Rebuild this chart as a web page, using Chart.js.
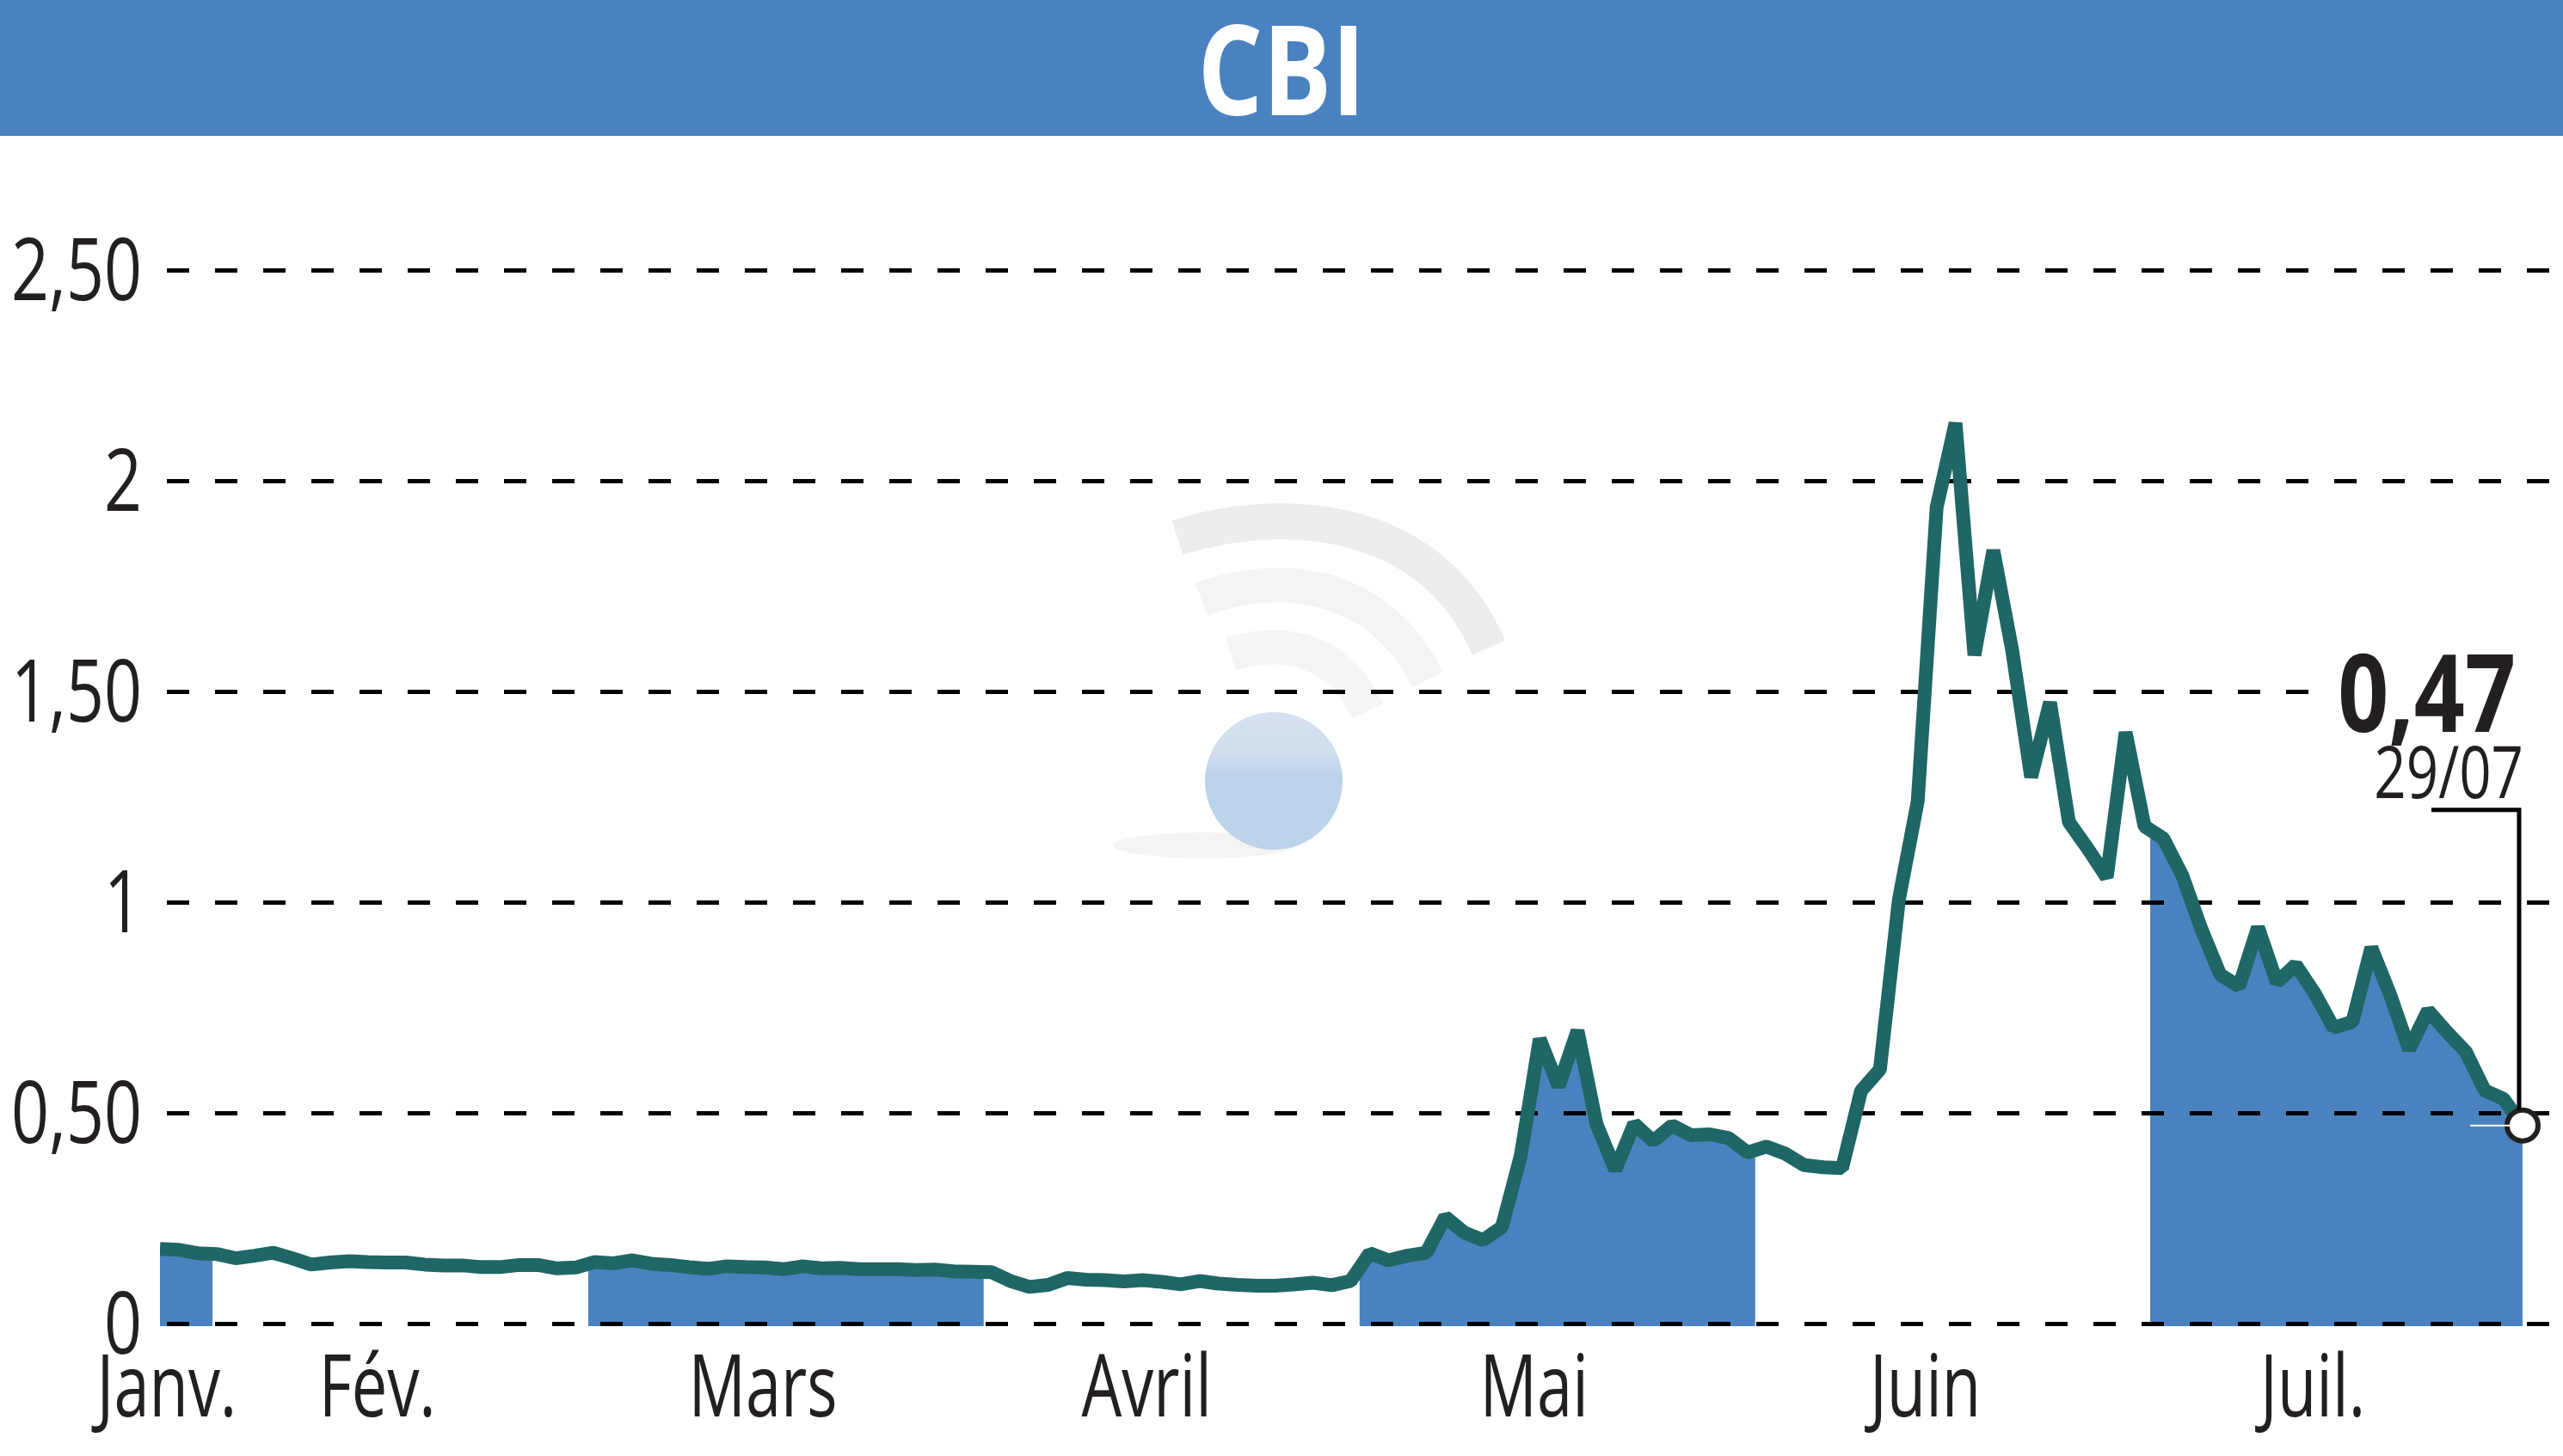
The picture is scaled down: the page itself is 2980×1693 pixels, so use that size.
<!DOCTYPE html>
<html lang="fr">
<head>
<meta charset="utf-8">
<title>CBI</title>
<script src="https://cdn.jsdelivr.net/npm/chart.js@4"></script>
<style>html,body{margin:0;padding:0;background:#fff}canvas{display:block}</style>
</head>
<body>
<canvas id="c" width="2980" height="1693"></canvas>
<script>
const titleText = 'CBI';
const lastDateLabel = '29/07';
const prices = [
  .177,.175,.167,.165,.155,.161,.168,.155,.14,.145,
  .148,.146,.145,.145,.14,.138,.138,.134,.134,.139,
  .139,.131,.133,.146,.143,.15,.142,.139,.134,.13,
  .136,.134,.133,.129,.136,.131,.132,.129,.129,.129,
  .127,.128,.124,.123,.122,.101,.087,.092,.108,.104,
  .103,.1,.103,.099,.093,.101,.095,.092,.09,.09,
  .093,.097,.091,.101,.167,.15,.161,.168,.253,.216,
  .198,.229,.399,.675,.563,.695,.474,.365,.474,.433,
  .47,.447,.449,.44,.406,.42,.403,.376,.371,.369,
  .552,.603,1.005,1.24,1.937,2.137,1.586,1.835,1.597,1.297,
  1.474,1.19,1.127,1.059,1.403,1.18,1.151,1.063,.937,.828,
  .8,.94,.81,.851,.784,.702,.716,.892,.78,.651,
  .743,.692,.645,.553,.533,.47
];
const monthLabels = ['Janv.','Fév.','Mars','Avril','Mai','Juin','Juil.'];
const monthTickDays = [0.36,11.5,31.9,52.2,72.7,93.4,113.9];
const yTickValues = [0,0.5,1,1.5,2,2.5];
const yTickLabels = ['0','0,50','1','1,50','2','2,50'];
const shadedDayRanges = [[-1,2.78],[22.66,43.58],[63.47,84.4],[105.3,128]];

const FONT = '"Open Sans","Noto Sans",sans-serif';
const INK = '#231f20', BLUE = '#4a82bf', GREEN = '#1f6666';
const points = prices.map((y,x)=>({x,y}));
const Y_MIN = -0.0061, Y_MAX = 2.8184, X_MAX = 127.14;

// The reference face is a condensed sans: narrow each real text run about its anchor.
function condenseText(ctx){
  if(ctx.__condensed) return;
  ctx.__condensed=true;
  const orig=ctx.fillText.bind(ctx);
  ctx.fillText=function(t,x,y){
    const s=String(t);
    const sx=/bold|700/.test(ctx.font)?.82:(/\d/.test(s)?.77:.74);
    const dy=ctx.textBaseline==='middle'?7:0;
    ctx.save();ctx.translate(x,y+dy);ctx.scale(sx,1);orig(s,0,0);ctx.restore();
  };
}

function drawWatermark(ctx){
  ctx.save();
  ctx.lineCap='butt';
  const arcs=[
    ['#ecEEec',42,[1369,625,1480,590,1660,590,1731,753]],
    ['#f2f5f1',40,[1397,697,1480,665,1600,670,1660,790]],
    ['#f4f6f5',40,[1431,760,1500,740,1560,760,1590,827]]
  ];
  arcs.forEach(([col,w,p])=>{
    ctx.strokeStyle=col;ctx.lineWidth=w;ctx.beginPath();ctx.moveTo(p[0],p[1]);
    ctx.bezierCurveTo(p[2],p[3],p[4],p[5],p[6],p[7]);ctx.stroke();
  });
  ctx.fillStyle='#f4f4f3';ctx.beginPath();ctx.ellipse(1400,983,105,15,0,0,Math.PI*2);ctx.fill();
  const g=ctx.createLinearGradient(0,830,0,990);
  g.addColorStop(0,'#d5e1f0');g.addColorStop(.28,'#cfdded');g.addColorStop(.46,'#bdd3e9');g.addColorStop(1,'#bdd3e9');
  ctx.fillStyle=g;ctx.beginPath();ctx.arc(1481,908,80,0,Math.PI*2);ctx.fill();
  ctx.restore();
}

const decor = {
  id:'decor',
  beforeDraw(chart){
    const {ctx,titleBlock,width}=chart;
    condenseText(ctx);
    ctx.fillStyle=BLUE;
    ctx.fillRect(0,0,width,titleBlock.bottom);
    drawWatermark(ctx);
  },
  beforeDatasetsDraw(chart){
    const {ctx,chartArea,scales}=chart;
    ctx.save();
    ctx.beginPath();
    shadedDayRanges.forEach(([a,b])=>{
      const l=scales.x.getPixelForValue(a), r=scales.x.getPixelForValue(b);
      ctx.rect(l,chartArea.top,r-l,chartArea.bottom-chartArea.top);
    });
    ctx.clip();
  },
  afterDatasetDraw(chart,args){
    if(args.index===1){
      chart.ctx.restore();
      chart.scales.y.drawGrid(chart.chartArea);
    }
  },
  afterDatasetsDraw(chart){
    const {ctx}=chart;
    const el=chart.getDatasetMeta(0).data[prices.length-1];
    const px=el.x, py=el.y;
    ctx.save();
    ctx.fillStyle='#fff';
    ctx.fillRect(px-236,py-512,275,30);
    ctx.strokeStyle='#000';ctx.lineWidth=5;ctx.lineCap='butt';ctx.lineJoin='miter';
    ctx.beginPath();ctx.moveTo(px-106,py-367);ctx.lineTo(px-4,py-367);ctx.lineTo(px-4,py-18);ctx.stroke();
    ctx.strokeStyle='#fff';ctx.lineWidth=2;
    ctx.beginPath();ctx.moveTo(px-61,py);ctx.lineTo(px-14,py);ctx.stroke();
    ctx.fillStyle=INK;ctx.textAlign='right';ctx.textBaseline='alphabetic';
    ctx.font='bold 126px '+FONT;
    ctx.fillText(String(prices[prices.length-1]).replace('.',','),px-8,py-458);
    ctx.font='85px '+FONT;
    ctx.fillText(lastDateLabel,px+1,py-381);
    ctx.restore();
  }
};

new Chart(document.getElementById('c'),{
  type:'line',
  data:{datasets:[
    {label:'Cours',data:points,order:0,borderColor:GREEN,borderWidth:16,borderJoinStyle:'bevel',borderCapStyle:'butt',
     tension:0,fill:false,
     pointRadius:c=>c.dataIndex===prices.length-1?18:0,
     pointBackgroundColor:'#fff',pointBorderColor:INK,pointBorderWidth:6},
    {label:'Zone',data:points,order:1,borderWidth:0,borderColor:'transparent',backgroundColor:BLUE,
     tension:0,pointRadius:0,fill:{value:Y_MIN}}
  ]},
  plugins:[decor],
  options:{
    responsive:false,animation:false,devicePixelRatio:1,
    layout:{padding:0,autoPadding:false},
    plugins:{
      legend:{display:false},tooltip:{enabled:false},
      filler:{drawTime:'beforeDatasetDraw',propagate:false},
      title:{display:true,text:titleText,color:'#fff',
        font:{family:FONT,size:145,weight:'bold',lineHeight:1},
        padding:{top:13,bottom:0}}
    },
    scales:{
      x:{type:'linear',min:0,max:X_MAX,
        grid:{display:false},border:{display:false},
        afterBuildTicks(s){s.ticks=monthTickDays.map(value=>({value}));},
        afterFit(s){s.height=151;},
        ticks:{autoSkip:false,maxRotation:0,color:INK,padding:12,
          font:{family:FONT,size:100,lineHeight:1},
          callback:(v,i)=>monthLabels[i]}
      },
      y:{min:Y_MIN,max:Y_MAX,
        afterBuildTicks(s){s.ticks=yTickValues.map(value=>({value}));},
        afterFit(s){s.width=186;},
        grid:{color:'#000',lineWidth:5,drawTicks:false},
        border:{display:false,dash:[26,30],dashOffset:48},
        ticks:{autoSkip:false,color:INK,padding:21,
          font:{family:FONT,size:100,lineHeight:1},
          callback:(v,i)=>yTickLabels[i]}
      }
    }
  }
});
</script>
</body>
</html>
